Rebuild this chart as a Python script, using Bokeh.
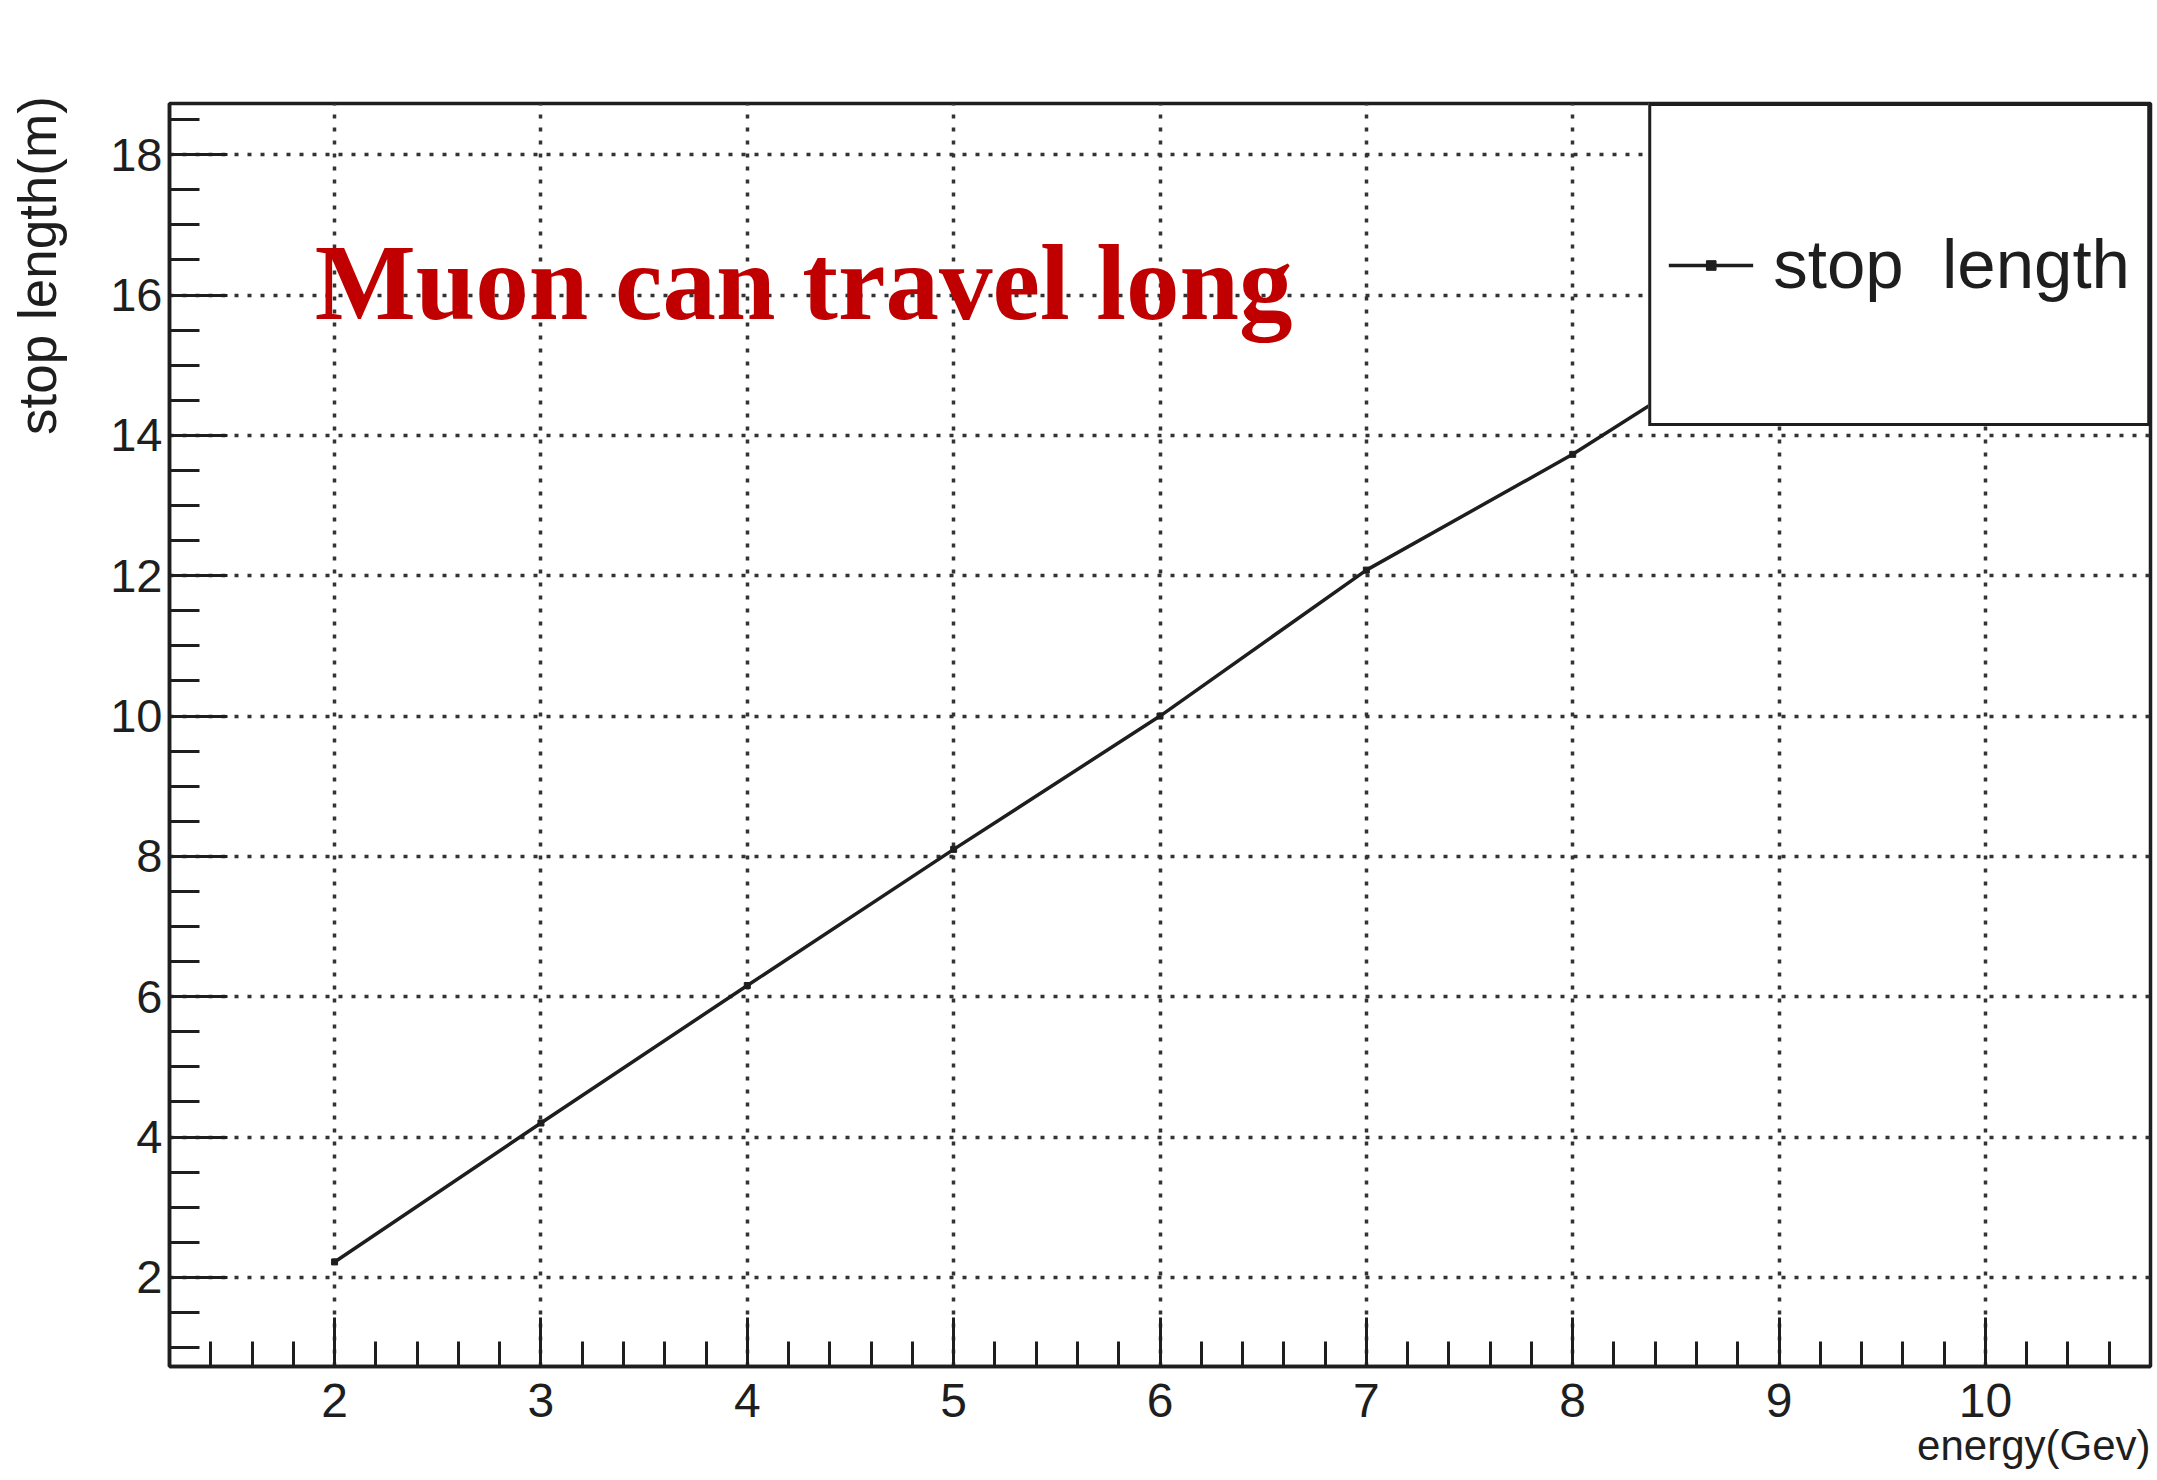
from bokeh.plotting import figure
from bokeh.models import Range1d, SingleIntervalTicker, Label, Legend, LegendItem, Title
from bokeh.embed import file_html
from bokeh.resources import INLINE

# ---- data ----
energy = [2, 3, 4, 5, 6, 7, 8, 9, 10]
stop_length = [2.22, 4.2, 6.16, 8.1, 10.0, 12.08, 13.73, 15.6, 17.4]
series_name = "stop  length"
x_title = "energy(Gev)"
y_title = "stop  length(m)"
note = "Muon can travel long"

SANS = "Liberation Sans"
INK = "#1e1e1e"

p = figure(width=2156, height=1479,
           x_range=Range1d(1.2, 10.8), y_range=Range1d(0.73, 18.73),
           output_backend="svg", toolbar_location=None,
           min_border_left=169, min_border_right=6,
           min_border_top=103, min_border_bottom=113)
p.background_fill_color = "white"
p.border_fill_color = "white"
p.outline_line_color = INK
p.outline_line_width = 3.5

p.xaxis.ticker = SingleIntervalTicker(interval=1, num_minor_ticks=5)
p.yaxis.ticker = SingleIntervalTicker(interval=2, num_minor_ticks=4)

for ax in (p.xaxis, p.yaxis):
    ax.axis_line_color = INK
    ax.axis_line_width = 3.5
    ax.major_tick_line_color = INK
    ax.minor_tick_line_color = INK
    ax.major_tick_line_width = 3
    ax.minor_tick_line_width = 3
    ax.major_tick_out = 0
    ax.minor_tick_out = 0
    ax.major_label_text_font = SANS
    ax.major_label_text_color = INK

p.xaxis.major_tick_in = 49
p.xaxis.minor_tick_in = 25
p.xaxis.major_label_standoff = 17
p.xaxis.major_label_text_font_size = "48px"

p.yaxis.major_tick_in = 58
p.yaxis.minor_tick_in = 30
p.yaxis.major_label_standoff = 7
p.yaxis.major_label_text_font_size = "47px"
# blank axis label only reserves room so the side title sits further left
p.yaxis.axis_label = " "
p.yaxis.axis_label_text_font_size = "10px"
p.yaxis.axis_label_standoff = 27

for g in (p.xgrid, p.ygrid):
    g.grid_line_color = "#333333"
    g.grid_line_width = 3.5
    g.grid_line_dash = "4 9"

line_r = p.line(energy, stop_length, line_color=INK, line_width=3.5)
mark_r = p.scatter(energy, stop_length, marker="square", size=6,
                   color=INK)

legend = Legend(items=[LegendItem(label=series_name, renderers=[line_r, mark_r])],
                location="top_right", margin=0, padding=17, spacing=0,
                glyph_width=85, glyph_height=24,
                label_height=283, label_width=356, label_standoff=20,
                label_text_font=SANS, label_text_font_size="69px",
                label_text_color=INK,
                border_line_color=INK, border_line_width=3.5,
                border_line_alpha=1.0,
                background_fill_color="white", background_fill_alpha=1.0)
p.add_layout(legend)

p.add_layout(Label(x=1.904, y=16.17, text=note, text_font="Liberation Serif",
                   text_font_style="bold", text_font_size="107px",
                   text_color="#c00000", text_baseline="alphabetic"))

p.add_layout(Title(text=x_title, align="right", standoff=0,
                   text_font=SANS, text_font_style="normal",
                   text_font_size="42px", text_color=INK), "below")

p.add_layout(Title(text=y_title, align="right", standoff=0, offset=-22,
                   text_font=SANS, text_font_style="normal",
                   text_font_size="53px", text_color=INK), "left")

open("out.html", "w").write(file_html(p, INLINE))
